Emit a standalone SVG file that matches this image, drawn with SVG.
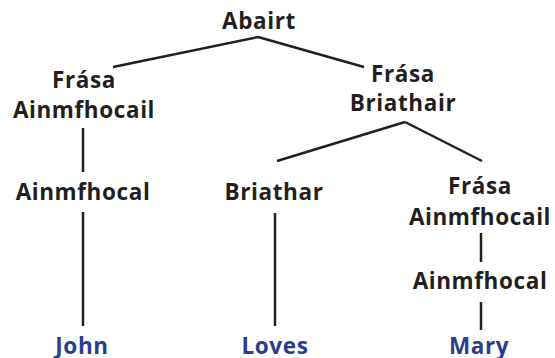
<svg xmlns="http://www.w3.org/2000/svg" width="555" height="358" viewBox="0 0 555 358">
<style>
.t{font-family:"Open Sans","Noto Sans",sans-serif;font-weight:bold;font-size:22.5px;letter-spacing:0.6px;fill:#231f20;text-anchor:middle}
.w{fill:#2a3d8f}
.c line{stroke:#231f20;stroke-width:2.5;stroke-linecap:butt}
</style>
<rect width="555" height="358" fill="#fff"/>
<g class="c" id="connectors">
<line x1="258" y1="37" x2="113" y2="67"/>
<line x1="258" y1="37" x2="364" y2="67"/>
<line x1="83" y1="128" x2="83" y2="172"/>
<line x1="83" y1="212" x2="83" y2="326"/>
<line x1="405" y1="122" x2="277" y2="161"/>
<line x1="405" y1="122" x2="482" y2="161"/>
<line x1="275" y1="213" x2="275" y2="326"/>
<line x1="481" y1="233" x2="481" y2="262"/>
<line x1="481" y1="302" x2="481" y2="330"/>
</g>
<g id="abairt"><text class="t" x="259" y="29">Abairt</text></g>
<g id="frasa-ainmfhocail-1"><text class="t" x="84" y="88">Frása</text><text class="t" x="84" y="118">Ainmfhocail</text></g>
<g id="frasa-briathair"><text class="t" x="403" y="82">Frása</text><text class="t" x="403" y="111">Briathair</text></g>
<g id="ainmfhocal-1"><text class="t" x="83" y="200">Ainmfhocal</text></g>
<g id="briathar"><text class="t" x="274" y="200">Briathar</text></g>
<g id="frasa-ainmfhocail-2"><text class="t" x="480" y="194">Frása</text><text class="t" x="480" y="225">Ainmfhocail</text></g>
<g id="ainmfhocal-2"><text class="t" x="480" y="289">Ainmfhocal</text></g>
<g id="john"><text class="t w" x="82" y="354">John</text></g>
<g id="loves"><text class="t w" x="275" y="354">Loves</text></g>
<g id="mary"><text class="t w" x="479" y="354">Mary</text></g>
</svg>
